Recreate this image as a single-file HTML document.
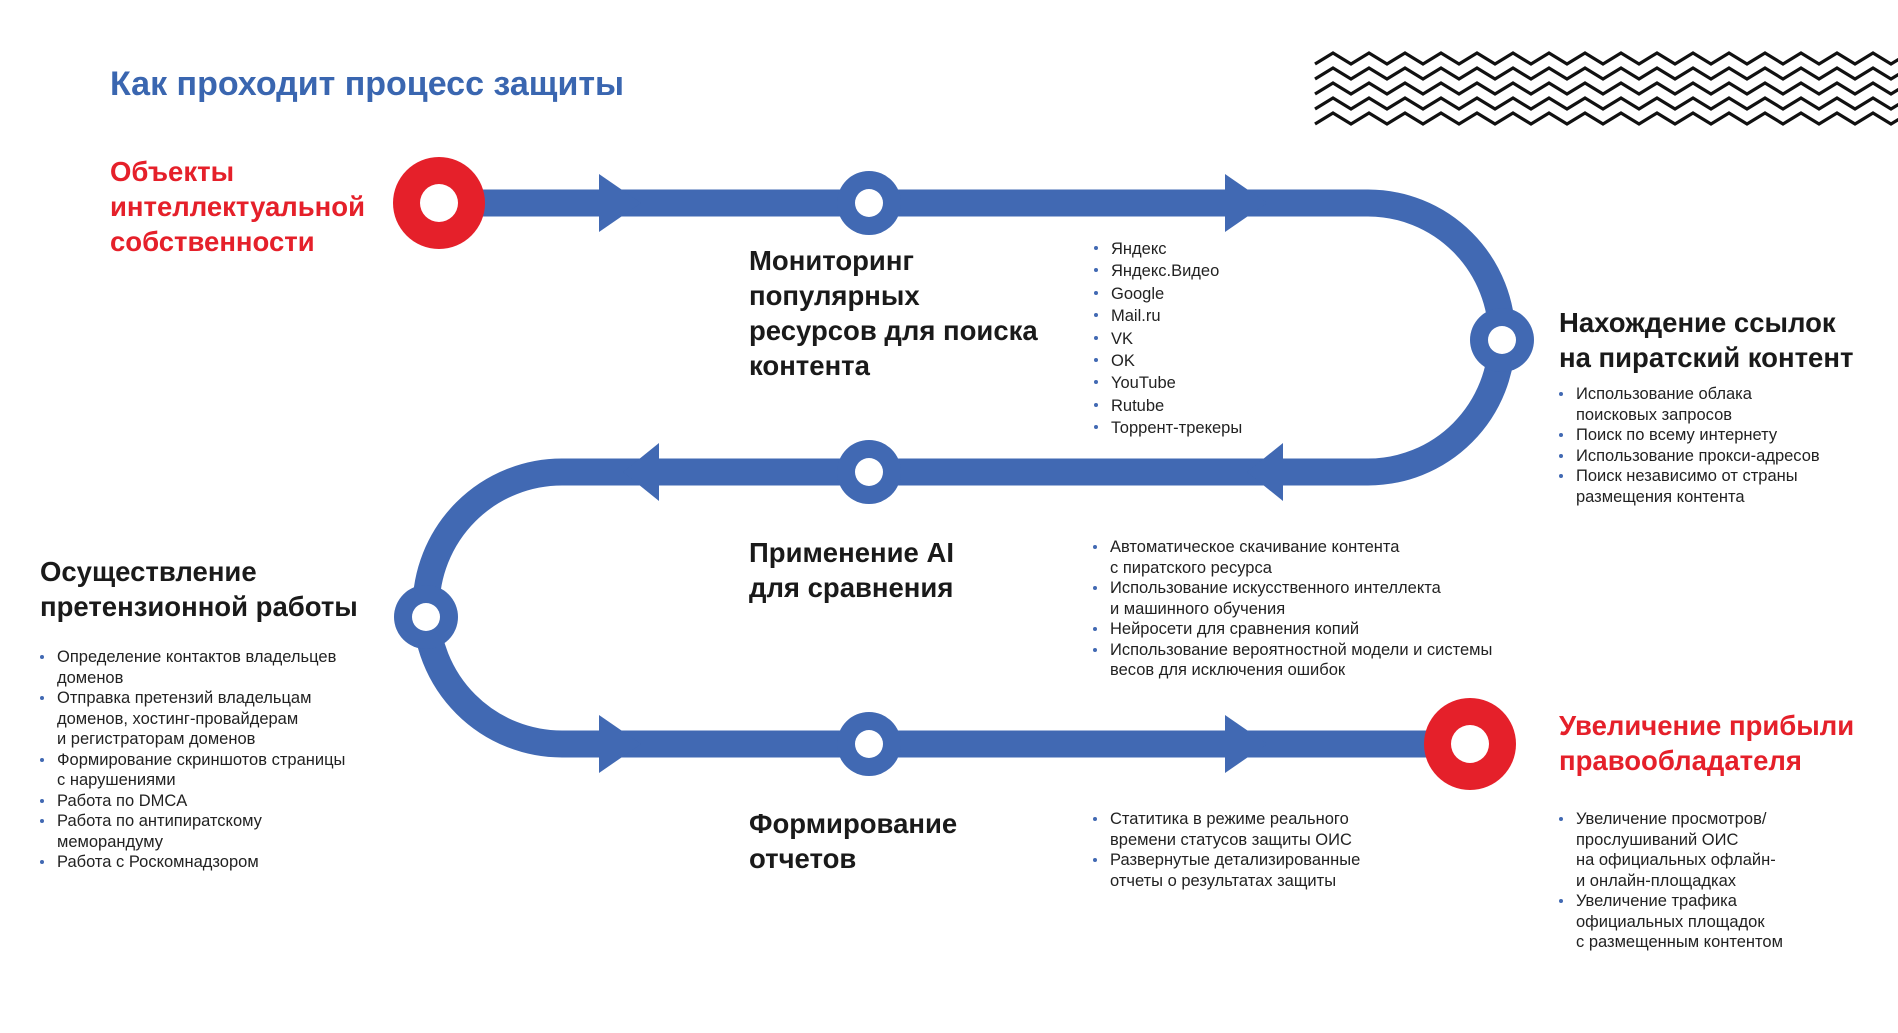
<!DOCTYPE html>
<html><head><meta charset="utf-8"><style>
html,body{margin:0;padding:0;background:#fff;}
body{width:1898px;height:1033px;position:relative;overflow:hidden;font-family:"Liberation Sans",sans-serif;}
.t{position:absolute;font-weight:bold;font-size:27.5px;line-height:35px;color:#1a1a1a;white-space:nowrap;}
.r{color:#e5202a;}
.l{position:absolute;font-size:16.5px;line-height:20.5px;color:#222;white-space:nowrap;margin:0;padding:0;list-style:none;}
.l li{position:relative;padding-left:17px;}
.l li:before{content:"";position:absolute;left:0;top:8px;width:4px;height:4px;border-radius:50%;background:#4169b3;}
</style></head><body>
<svg width="1898" height="1033" style="position:absolute;left:0;top:0">
<g fill="none" stroke="#111" stroke-width="3.2">
<path d="M1315,64 l18,-11 l18,11 l18,-11 l18,11 l18,-11 l18,11 l18,-11 l18,11 l18,-11 l18,11 l18,-11 l18,11 l18,-11 l18,11 l18,-11 l18,11 l18,-11 l18,11 l18,-11 l18,11 l18,-11 l18,11 l18,-11 l18,11 l18,-11 l18,11 l18,-11 l18,11 l18,-11 l18,11 l18,-11 l18,11 l18,-11 l18,11 l18,-11 l18,11" id="z"/>
<use href="#z" y="15"/><use href="#z" y="30"/><use href="#z" y="45"/><use href="#z" y="60"/>
</g>
<g fill="none" stroke="#4169b3" stroke-width="27">
<path d="M439,203 H1368 A134,134.5 0 0 1 1368,472 H562 A136,136 0 0 0 562,744 H1470"/>
</g>
<g fill="#4169b3">
<polygon points="599,174 641,203 599,232"/>
<polygon points="1225,174 1267,203 1225,232"/>
<polygon points="623,472 659,443 659,501"/>
<polygon points="1247,472 1283,443 1283,501"/>
<polygon points="599,715 641,744 599,773"/>
<polygon points="1225,715 1267,744 1225,773"/>
<circle cx="869" cy="203" r="32"/>
<circle cx="869" cy="472" r="32"/>
<circle cx="1502" cy="340" r="32"/>
<circle cx="426" cy="617" r="32"/>
<circle cx="869" cy="744" r="32"/>
</g>
<g fill="#fff">
<circle cx="869" cy="203" r="14"/>
<circle cx="869" cy="472" r="14"/>
<circle cx="1502" cy="340" r="14"/>
<circle cx="426" cy="617" r="14"/>
<circle cx="869" cy="744" r="14"/>
</g>
<circle cx="439" cy="203" r="46" fill="#e5202a"/><circle cx="439" cy="203" r="19" fill="#fff"/>
<circle cx="1470" cy="744" r="46" fill="#e5202a"/><circle cx="1470" cy="744" r="19" fill="#fff"/>
</svg>

<div class="t" style="left:110px;top:64px;font-size:34px;line-height:40px;color:#3a66b0;">Как проходит процесс защиты</div>

<div class="t r" style="left:110px;top:154px;">Объекты<br>интеллектуальной<br>собственности</div>

<div class="t" style="left:749px;top:243px;">Мониторинг<br>популярных<br>ресурсов для поиска<br>контента</div>
<ul class="l" style="left:1094px;top:238px;line-height:22.4px;">
<li>Яндекс</li><li>Яндекс.Видео</li><li>Google</li><li>Mail.ru</li><li>VK</li><li>OK</li><li>YouTube</li><li>Rutube</li><li>Торрент-трекеры</li></ul>

<div class="t" style="left:1559px;top:305px;">Нахождение ссылок<br>на пиратский контент</div>
<ul class="l" style="left:1559px;top:384px;">
<li>Использование облака<br>поисковых запросов</li><li>Поиск по всему интернету</li><li>Использование прокси-адресов</li><li>Поиск независимо от страны<br>размещения контента</li></ul>

<div class="t" style="left:749px;top:535px;">Применение AI<br>для сравнения</div>
<ul class="l" style="left:1093px;top:537px;">
<li>Автоматическое скачивание контента<br>с пиратского ресурса</li><li>Использование искусственного интеллекта<br>и машинного обучения</li><li>Нейросети для сравнения копий</li><li>Использование вероятностной модели и системы<br>весов для исключения ошибок</li></ul>

<div class="t" style="left:40px;top:554px;">Осуществление<br>претензионной работы</div>
<ul class="l" style="left:40px;top:647px;">
<li>Определение контактов владельцев<br>доменов</li><li>Отправка претензий владельцам<br>доменов, хостинг-провайдерам<br>и регистраторам доменов</li><li>Формирование скриншотов страницы<br>с нарушениями</li><li>Работа по DMCA</li><li>Работа по антипиратскому<br>меморандуму</li><li>Работа с Роскомнадзором</li></ul>

<div class="t r" style="left:1559px;top:708px;">Увеличение прибыли<br>правообладателя</div>
<ul class="l" style="left:1559px;top:809px;">
<li>Увеличение просмотров/<br>прослушиваний ОИС<br>на официальных офлайн-<br>и онлайн-площадках</li><li>Увеличение трафика<br>официальных площадок<br>с размещенным контентом</li></ul>

<div class="t" style="left:749px;top:806px;">Формирование<br>отчетов</div>
<ul class="l" style="left:1093px;top:809px;">
<li>Статитика в режиме реального<br>времени статусов защиты ОИС</li><li>Развернутые детализированные<br>отчеты о результатах защиты</li></ul>
</body></html>
